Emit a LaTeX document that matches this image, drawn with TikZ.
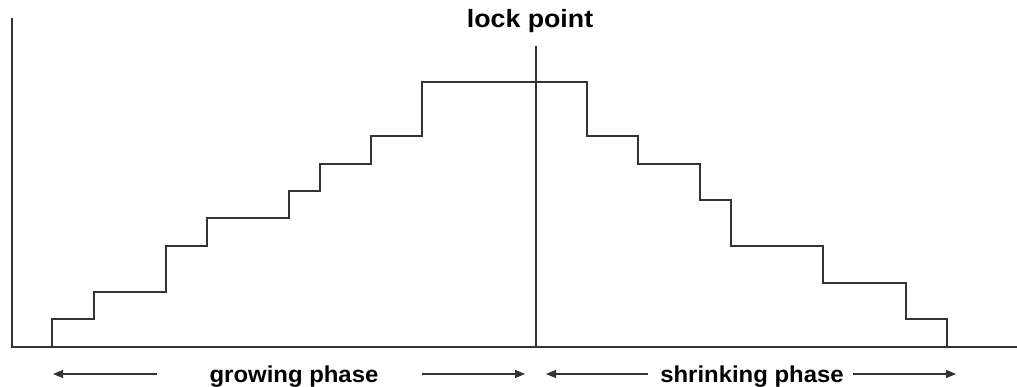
\documentclass[tikz,border=0pt]{standalone}
\usepackage{fontspec}
\setmainfont{Liberation Sans}
\usetikzlibrary{arrows.meta}
\begin{document}
\begin{tikzpicture}[x=1pt,y=-1pt,
  axis/.style={line width=1.3pt,draw=black!80},
  stair/.style={line width=1.3pt,draw=black!80,line join=miter},
  phasearrow/.style={line width=1.2pt,draw=black!80,-{Triangle[length=10pt,width=8pt]}},
  lbl/.style={inner sep=0pt,anchor=base,font=\bfseries\fontsize{23}{23}\selectfont}]
\useasboundingbox[fill=white] (0,0) rectangle (1017,387);
% axes
\coordinate (ytop) at (12,18);
\coordinate (orig) at (12,347);
\coordinate (xend) at (1017,347);
\draw[axis] (ytop) -- (orig) -- (xend);
% staircase
\draw[stair] (52,347) |- (94,319) |- (166,292) |- (207,246) |- (289,218) |- (320,191) |- (371,164) |- (422,136) |- (587,82)
  |- (638,136) |- (700,164) |- (731,200) |- (823,246) |- (906,283) |- (947,319) -- (947,347);
% lock point line
\coordinate (lktop) at (536,46);
\coordinate (lkbot) at (536,347);
\draw[axis] (lktop) -- (lkbot);
\node[lbl,font=\bfseries\fontsize{25}{25}\selectfont] (lock) at (530,28) {\scalebox{1.07}[1]{lock point}};
% phase labels
\node[lbl] (grow) at (294,382) {\scalebox{1.04}[1]{growing phase}};
\node[lbl] (shrink) at (752,382) {\scalebox{1.04}[1]{shrinking phase}};
% arrows
\coordinate (g1s) at (157,374); \coordinate (g1e) at (53,374);
\coordinate (g2s) at (422,374); \coordinate (g2e) at (525,374);
\coordinate (s1s) at (648,374); \coordinate (s1e) at (546,374);
\coordinate (s2s) at (853,374); \coordinate (s2e) at (956,374);
\draw[phasearrow] (g1s) -- (g1e);
\draw[phasearrow] (g2s) -- (g2e);
\draw[phasearrow] (s1s) -- (s1e);
\draw[phasearrow] (s2s) -- (s2e);
\end{tikzpicture}
\end{document}
